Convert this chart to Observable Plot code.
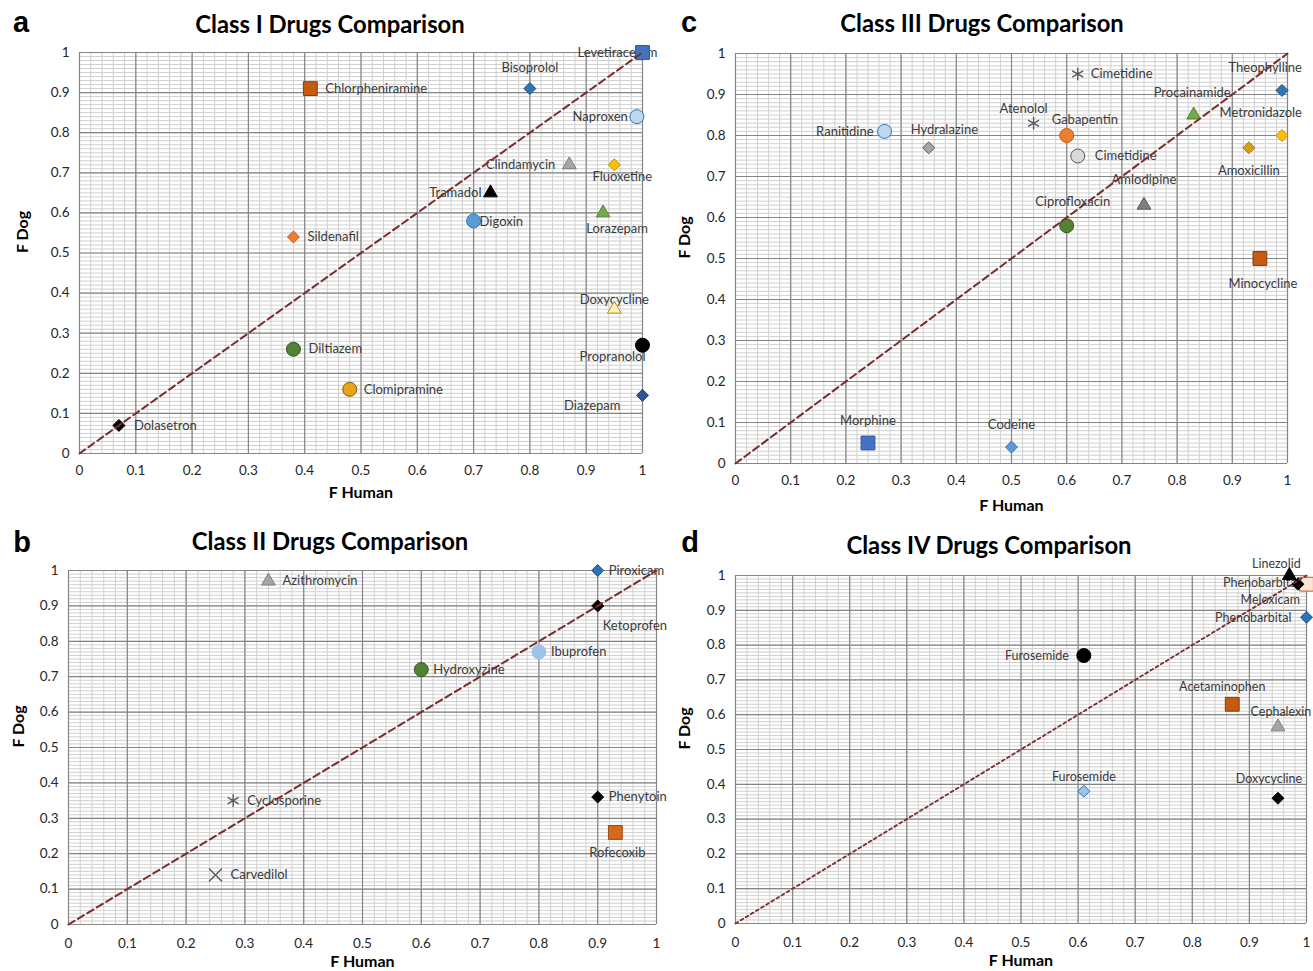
<!DOCTYPE html>
<html><head><meta charset="utf-8">
<script src="https://cdn.jsdelivr.net/npm/d3@7"></script>
<script src="https://cdn.jsdelivr.net/npm/@observablehq/plot@0.6"></script>
<style>
body{margin:0;background:#fff;}
#root{position:relative;width:1313px;height:971px;overflow:hidden;background:#fff;}
.panel{position:absolute;}
.letter{position:absolute;font-family:"Liberation Sans",Arial,sans-serif;font-weight:bold;font-size:29px;line-height:1;color:#000;transform:translate(-50%,-50%);}
.title{position:absolute;font-family:Lato,"Open Sans",sans-serif;font-weight:bold;font-size:23.8px;line-height:1;color:#000;transform:translate(-50%,-50%);white-space:nowrap;}
</style></head><body><div id="root"></div>
<script>
// ---- shared axis ticks ----
const tickValues = [0, 0.1, 0.2, 0.3, 0.4, 0.5, 0.6, 0.7, 0.8, 0.9, 1];
const tickLabels = ["0", "0.1", "0.2", "0.3", "0.4", "0.5", "0.6", "0.7", "0.8", "0.9", "1"];
const identityDiagonal = [0, 1];

// ---- Class I ----
const classINames = ["Levetiracetam","Bisoprolol","Chlorpheniramine","Naproxen","Clindamycin","Fluoxetine","Tramadol","Digoxin","Lorazepam","Sildenafil","Doxycycline","Propranolol","Diltiazem","Clomipramine","Diazepam","Dolasetron"];
const classIHuman = [1.0, 0.80, 0.41, 0.99, 0.87, 0.95, 0.73, 0.70, 0.93, 0.38, 0.95, 1.0, 0.38, 0.48, 1.0, 0.07];
const classIDog   = [1.0, 0.91, 0.91, 0.84, 0.72, 0.72, 0.65, 0.58, 0.60, 0.54, 0.36, 0.27, 0.26, 0.16, 0.145, 0.07];

// ---- Class II ----
const classIINames = ["Piroxicam","Azithromycin","Ketoprofen","Ibuprofen","Hydroxyzine","Cyclosporine","Phenytoin","Rofecoxib","Carvedilol"];
const classIIHuman = [0.90, 0.34, 0.90, 0.80, 0.60, 0.28, 0.90, 0.93, 0.25];
const classIIDog   = [1.0, 0.97, 0.90, 0.77, 0.72, 0.35, 0.36, 0.26, 0.14];

// ---- Class III ----
const classIIINames = ["Cimetidine","Theophylline","Procainamide","Metronidazole","Atenolol","Gabapentin","Ranitidine","Hydralazine","Cimetidine","Amoxicillin","Amlodipine","Ciprofloxacin","Minocycline","Morphine","Codeine"];
const classIIIHuman = [0.62, 0.99, 0.83, 0.99, 0.54, 0.60, 0.27, 0.35, 0.62, 0.93, 0.74, 0.60, 0.95, 0.24, 0.50];
const classIIIDog   = [0.95, 0.91, 0.85, 0.80, 0.83, 0.80, 0.81, 0.77, 0.75, 0.77, 0.63, 0.58, 0.50, 0.05, 0.04];

// ---- Class IV ----
const classIVNames = ["Linezolid","Phenobarbital","Meloxicam","Phenobarbital","Furosemide","Acetaminophen","Cephalexin","Furosemide","Doxycycline"];
const classIVHuman = [0.97, 1.0, 0.985, 1.0, 0.61, 0.87, 0.95, 0.61, 0.95];
const classIVDog   = [1.0, 0.975, 0.975, 0.88, 0.77, 0.63, 0.565, 0.38, 0.36];

// ---- styles (kept apart from the values) ----
const classIShape  = ["square","diamond2","square","circle","triangle","diamond2","triangle","circle","triangle","diamond2","triangle","circle","circle","circle","diamond2","diamond2"];
const classIFill   = ["#4472C4","#2E75B6","#C55A11","#BDD7EE","#A5A5A5","#FFC000","#000000","#5B9BD5","#70AD47","#ED7D31","#FFF2CC","#000000","#548235","#E8A317","#2F5597","#000000"];
const classIStroke = ["#2F5597","#1F4E79","#843C0C","#2E75B6","#7F7F7F","#BF9000","#000000","#2E75B6","#548235","#C55A11","#BF9000","#000000","#375623","#7F6000","#1F3864","#000000"];
const classILabel  = [["middle",-25,0],["middle",0,-21],["start",15,0],["end",-9,0],["end",-14,0],["middle",8,12],["end",-9,0],["start",6,1],["middle",14,16],["start",14,0],["middle",0,-9],["middle",-30,12],["start",15,0],["start",14,0],["end",-22,10],["start",15,0]];

const classIIShape  = ["diamond2","triangle","diamond2","circle","circle","asterisk","diamond2","square","times"];
const classIIFill   = ["#2E75B6","#A5A5A5","#000000","#9DC3E6","#548235","none","#000000","#D26B1F","none"];
const classIIStroke = ["#1F4E79","#7F7F7F","#000000","#9DC3E6","#375623","#595959","#000000","#A0460E","#595959"];
const classIILabel  = [["start",11,0],["start",14,0],["start",5,20],["start",12,0],["start",12,0],["start",14,0],["start",11,0],["middle",2,20],["start",15,0]];

const classIIIShape  = ["asterisk","diamond2","triangle","diamond2","asterisk","circle","circle","diamond2","circle","diamond2","triangle","circle","square","square","diamond2"];
const classIIIFill   = ["none","#2E75B6","#70AD47","#FFC000","none","#ED7D31","#BDD7EE","#A5A5A5","#D9D9D9","#D4A017","#7F7F7F","#548235","#C55A11","#4472C4","#5B9BD5"];
const classIIIStroke = ["#595959","#1F4E79","#548235","#BF9000","#595959","#C55A11","#2E75B6","#595959","#595959","#9C7A00","#595959","#375623","#843C0C","#2F5597","#2E75B6"];
const classIIILabel  = [["start",13,0],["end",20,-23],["end",37,-22],["end",20,-23],["middle",-10,-14],["start",-15,-16],["end",-11,0],["start",-18,-18],["start",17,0],["middle",0,23],["middle",0,-25],["middle",6,-24],["middle",3,25],["middle",0,-22],["middle",0,-22]];

const classIVShape  = ["triangle","square","diamond2","diamond2","circle","square","triangle","diamond2","diamond2"];
const classIVFill   = ["#000000","#FBE5D6","#000000","#2E75B6","#000000","#C55A11","#A5A5A5","#9DC3E6","#000000"];
const classIVStroke = ["#000000","#C55A11","#000000","#1F4E79","#000000","#843C0C","#7F7F7F","#2E75B6","#000000"];
const classIVLabel  = [["middle",-13,-12],["end",-7,-1],["end",2,16],["end",-15,1],["end",-15,0],["middle",-10,-17],["middle",3,-15],["middle",0,-14],["middle",-9,-19]];

const symbolRadius = {circle: 7, square: 7.8, diamond2: 5.4, triangle: 5.1, asterisk: 6, times: 6};

const panels = [
  {letter:"a", title:"Class I Drugs Comparison", names:classINames, human:classIHuman, dog:classIDog,
   shape:classIShape, fill:classIFill, stroke:classIStroke, label:classILabel,
   left:0, top:40, width:665, height:480, ml:79, mr:23, mt:12, mb:67, tickPad:12, xTitle:44, yTitle:-57,
   dash:"7,4", dashWidth:2, letterPos:[21,22], titlePos:[330,25], labelSize:13},
  {letter:"c", title:"Class III Drugs Comparison", names:classIIINames, human:classIIIHuman, dog:classIIIDog,
   shape:classIIIShape, fill:classIIIFill, stroke:classIIIStroke, label:classIIILabel,
   left:670, top:40, width:643, height:490, ml:65, mr:26, mt:13, mb:67, tickPad:12, xTitle:47, yTitle:-51,
   dash:"7,4", dashWidth:2, letterPos:[689,22], titlePos:[982,24], labelSize:13},
  {letter:"b", title:"Class II Drugs Comparison", names:classIINames, human:classIIHuman, dog:classIIDog,
   shape:classIIShape, fill:classIIFill, stroke:classIIStroke, label:classIILabel,
   left:0, top:555, width:684, height:416, ml:68, mr:28, mt:15, mb:47, tickPad:14, xTitle:42, yTitle:-50,
   dash:"7,4", dashWidth:2, letterPos:[22,542], titlePos:[330,542], labelSize:13},
  {letter:"d", title:"Class IV Drugs Comparison", names:classIVNames, human:classIVHuman, dog:classIVDog,
   shape:classIVShape, fill:classIVFill, stroke:classIVStroke, label:classIVLabel,
   left:690, top:555, width:623, height:416, ml:45, mr:7, mt:20, mb:48, tickPad:14, xTitle:42, yTitle:-51,
   dash:"3,3", dashWidth:1.8, letterPos:[690,542], titlePos:[989,546], labelSize:12.5}
];

const minorX = d3.range(0, 51).map(i => i / 50);
const minorY = d3.range(0, 101).map(i => i / 100);
const root = document.getElementById("root");

for (const p of panels) {
  const idx = p.names.map((_, i) => i);
  const labelMarks = idx.map(i => Plot.text([i], {
    x: j => p.human[j], y: j => p.dog[j], text: j => p.names[j],
    textAnchor: p.label[i][0], dx: p.label[i][1], dy: p.label[i][2],
    fill: "#3a3a3a", fontSize: p.labelSize, fontFamily: "Lato, 'Open Sans', sans-serif"
  }));
  const dotMarks = idx.map(i => Plot.dot([i], {
    x: j => p.human[j], y: j => p.dog[j],
    symbol: p.shape[i], r: symbolRadius[p.shape[i]],
    fill: p.fill[i], stroke: p.stroke[i],
    strokeWidth: (p.shape[i] === "asterisk" || p.shape[i] === "times") ? 1.4 : 1
  }));
  const chart = Plot.plot({
    width: p.width, height: p.height,
    marginLeft: p.ml, marginRight: p.mr, marginTop: p.mt, marginBottom: p.mb,
    x: {domain: [0, 1]}, y: {domain: [0, 1]},
    style: {fontFamily: "Lato, 'Open Sans', sans-serif", fontSize: "13.5px", color: "#262626", background: "transparent", overflow: "visible"},
    marks: [
      Plot.ruleX(minorX, {stroke: "#D0D0D0", strokeWidth: 1}),
      Plot.ruleY(minorY, {stroke: "#D0D0D0", strokeWidth: 1}),
      Plot.ruleX(tickValues, {stroke: "#858585", strokeWidth: 1.2}),
      Plot.ruleY(tickValues, {stroke: "#858585", strokeWidth: 1.2}),
      Plot.axisX(tickValues, {tickSize: 0, tickPadding: p.tickPad, label: null,
        tickFormat: d => tickLabels[tickValues.indexOf(d)]}),
      Plot.axisY(tickValues, {tickSize: 0, tickPadding: 10, label: null,
        tickFormat: d => tickLabels[tickValues.indexOf(d)]}),
      Plot.text(["F Human"], {frameAnchor: "bottom", dy: p.xTitle, text: d => d,
        fontWeight: "bold", fontSize: 16, fill: "#000"}),
      Plot.text(["F Dog"], {frameAnchor: "left", dx: p.yTitle, rotate: -90, text: d => d,
        fontWeight: "bold", fontSize: 16, fill: "#000"}),
      ...labelMarks,
      ...dotMarks,
      Plot.line(identityDiagonal, {x: d => d, y: d => d, stroke: "#7B2C2C",
        strokeWidth: p.dashWidth, strokeDasharray: p.dash})
    ]
  });
  const holder = document.createElement("div");
  holder.className = "panel";
  holder.style.left = p.left + "px";
  holder.style.top = p.top + "px";
  holder.appendChild(chart);
  root.appendChild(holder);

  const letter = document.createElement("div");
  letter.className = "letter";
  letter.textContent = p.letter;
  letter.style.left = p.letterPos[0] + "px";
  letter.style.top = p.letterPos[1] + "px";
  root.appendChild(letter);

  const title = document.createElement("div");
  title.className = "title";
  title.textContent = p.title;
  title.style.left = p.titlePos[0] + "px";
  title.style.top = p.titlePos[1] + "px";
  root.appendChild(title);
}
</script></body></html>
